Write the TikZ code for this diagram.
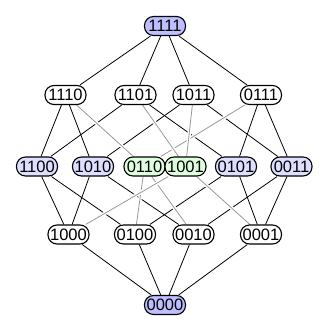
\documentclass[tikz,border=0pt]{standalone}
\usepackage{fontspec}
\setmainfont{Liberation Sans}
\usetikzlibrary{backgrounds}
\definecolor{endclr}{RGB}{191,191,255}
\definecolor{pairclr}{RGB}{222,222,255}
\definecolor{midclr}{RGB}{222,255,222}
\tikzstyle{bits} = [rectangle, rounded corners=9pt, minimum width=41pt, minimum height=19pt, inner sep=0pt, text centered, draw=black, line width=1.1pt, fill=white, font=\fontsize{16.5}{18}\selectfont]
\tikzstyle{link} = [black, line width=0.8pt]
\tikzstyle{faint} = [black!40, line width=0.8pt, preaction={draw=white, line width=3.5pt}]

\begin{document}
\begin{tikzpicture}[x=1pt, y=-1pt]
        \useasboundingbox (0,0) rectangle (330,330);

        % Top and bottom
        \node (n1111) [bits, fill=endclr] at (165,26) {1111};
        \node (n0000) [bits, fill=endclr] at (165,305) {0000};

        % Three ones
        \node (n1110) [bits] at (65.5,95) {1110};
        \node (n1101) [bits] at (135.5,95) {1101};
        \node (n1011) [bits] at (193.5,95) {1011};
        \node (n0111) [bits] at (261,95) {0111};

        % Two ones
        \node (n1100) [bits, fill=pairclr] at (37,166.5) {1100};
        \node (n1010) [bits, fill=pairclr] at (93,166.5) {1010};
        \node (n0110) [bits, fill=midclr] at (144.5,166.5) {0110};
        \node (n1001) [bits, fill=midclr] at (185.5,166.5) {1001};
        \node (n0101) [bits, fill=pairclr] at (236,166.5) {0101};
        \node (n0011) [bits, fill=pairclr] at (291.5,166.5) {0011};

        % One one
        \node (n1000) [bits] at (68.5,234.5) {1000};
        \node (n0100) [bits] at (135,234.5) {0100};
        \node (n0010) [bits] at (193.5,234.5) {0010};
        \node (n0001) [bits] at (261,234.5) {0001};

        \begin{scope}[on background layer]
        % Edges
        \draw [link] (n1111) -- (n1110);
        \draw [link] (n1111) -- (n1101);
        \draw [link] (n1111) -- (n1011);
        \draw [link] (n1111) -- (n0111);

        \draw [link] (n1110) -- (n1100);
        \draw [link] (n1110) -- (n1010);
        \draw [link] (n1101) -- (n1100);
        \draw [link] (n1101) -- (n0101);
        \draw [link] (n1011) -- (n1010);
        \draw [link] (n1011) -- (n0011);
        \draw [link] (n0111) -- (n0101);
        \draw [link] (n0111) -- (n0011);

        \draw [link] (n1100) -- (n1000);
        \draw [link] (n1100) -- (n0100);
        \draw [link] (n1010) -- (n1000);
        \draw [link] (n1010) -- (n0010);
        \draw [link] (n0101) -- (n0100);
        \draw [link] (n0101) -- (n0001);
        \draw [link] (n0011) -- (n0010);
        \draw [link] (n0011) -- (n0001);

        \draw [link] (n1000) -- (n0000);
        \draw [link] (n0100) -- (n0000);
        \draw [link] (n0010) -- (n0000);
        \draw [link] (n0001) -- (n0000);

        % Middle pair, drawn over the rest
        \draw [faint] (n1110) -- (n0110);
        \draw [faint] (n0111) -- (n0110);
        \draw [faint] (n1101) -- (n1001);
        \draw [faint] (n1011) -- (n1001);
        \draw [faint] (n0110) -- (n0100);
        \draw [faint] (n0110) -- (n0010);
        \draw [faint] (n1001) -- (n1000);
        \draw [faint] (n1001) -- (n0001);
        \end{scope}

    \end{tikzpicture}
\end{document}
